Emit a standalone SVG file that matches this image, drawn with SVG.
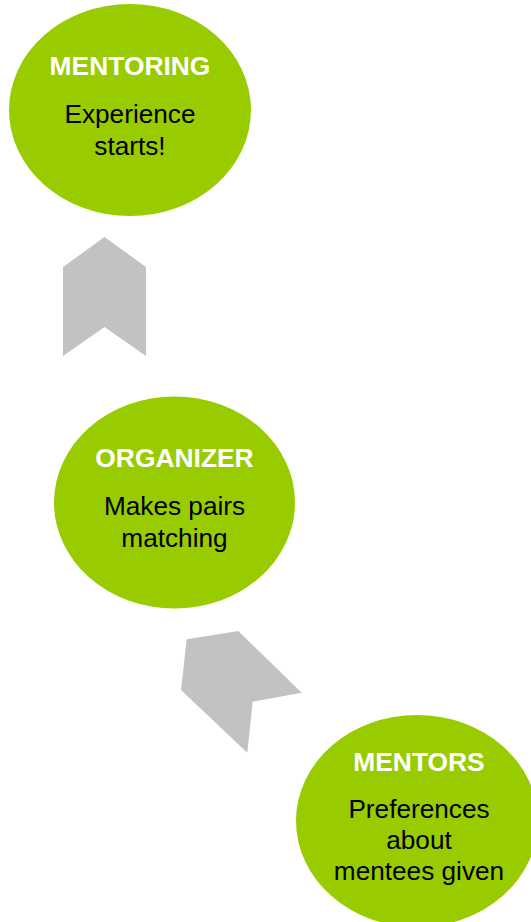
<svg xmlns="http://www.w3.org/2000/svg" width="531" height="922" viewBox="0 0 531 922">
<style>
.node{fill:#99CC00}
.arrow{fill:#C1C3C2}
.title{font-family:"Liberation Sans",Arial,sans-serif;font-weight:bold;font-size:26.4px;fill:#FFFFFF;text-anchor:middle}
.body{font-family:"Liberation Sans",Arial,sans-serif;font-size:26.2px;fill:#000000;text-anchor:middle}
</style>
<rect width="531" height="922" fill="#FFFFFF"/>
<g id="connectors">
<polygon class="arrow" points="104.5,237 146,267 146,356 104.5,327 63,356 63,267"/>
<polygon class="arrow" points="186.7,639.3 238.3,631 301.7,692.7 252.7,701.7 247.3,752.7 181,690"/>
</g>
<g id="node-mentoring">
<ellipse class="node" cx="130" cy="110" rx="121" ry="106"/>
<text class="title" x="130" y="75">MENTORING</text>
<text class="body" x="130" y="123">Experience</text>
<text class="body" x="130" y="155">starts!</text>
</g>
<g id="node-organizer">
<ellipse class="node" cx="174.5" cy="502.5" rx="120.5" ry="106"/>
<text class="title" x="174.5" y="467">ORGANIZER</text>
<text class="body" x="174.5" y="515">Makes pairs</text>
<text class="body" x="174.5" y="547">matching</text>
</g>
<g id="node-mentors">
<ellipse class="node" cx="417" cy="821" rx="121" ry="106"/>
<text class="title" x="419" y="771">MENTORS</text>
<text class="body" x="419" y="818">Preferences</text>
<text class="body" x="419" y="849">about</text>
<text class="body" x="419" y="880">mentees given</text>
</g>
</svg>
